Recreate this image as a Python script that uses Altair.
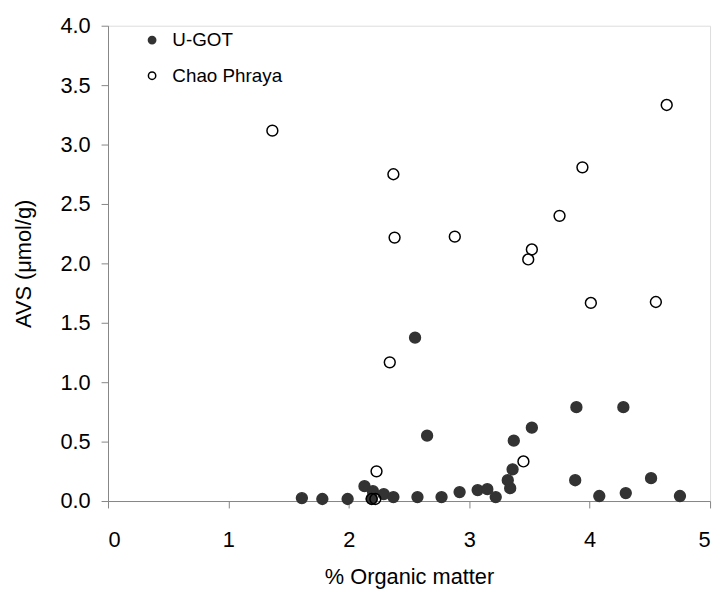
import altair as alt
import pandas as pd

series_names = ["U-GOT", "Chao Phraya"]

ugot_x = [1.61, 1.78, 1.99, 2.13, 2.20, 2.19, 2.29, 2.37, 2.57, 2.77, 2.92, 3.07, 3.15, 3.22,
          3.34, 3.32, 3.36, 3.37, 3.52, 3.89, 4.28, 3.88, 4.08, 4.30, 4.51, 4.75, 2.55, 2.65]
ugot_y = [0.025, 0.017, 0.017, 0.125, 0.083, 0.02, 0.058, 0.033, 0.033, 0.033, 0.075, 0.092, 0.10, 0.033,
          0.108, 0.175, 0.267, 0.508, 0.617, 0.79, 0.79, 0.175, 0.042, 0.067, 0.192, 0.042, 1.375, 0.55]

chao_x = [1.365, 2.37, 2.38, 2.88, 2.34, 2.23, 2.19, 2.22, 3.45, 4.64, 3.94, 3.75, 3.52, 3.49, 4.01, 4.55]
chao_y = [3.117, 2.75, 2.217, 2.225, 1.167, 0.25, 0.017, 0.017, 0.333, 3.333, 2.808, 2.40, 2.117, 2.033, 1.667, 1.675]

x_ticks = [0, 1, 2, 3, 4, 5]
y_ticks = [0.0, 0.5, 1.0, 1.5, 2.0, 2.5, 3.0, 3.5, 4.0]

rows = [{"om": x, "avs": y, "site": series_names[0]} for x, y in zip(ugot_x, ugot_y)]
rows += [{"om": x, "avs": y, "site": series_names[1]} for x, y in zip(chao_x, chao_y)]
df = pd.DataFrame(rows)

FONT = "Liberation Sans"
AXIS_GRAY = "#868686"

chart = alt.Chart(df).mark_point(
    shape="circle", size=120, strokeWidth=1.5, opacity=1, filled=False
).encode(
    x=alt.X("om:Q", title="% Organic matter",
            scale=alt.Scale(domain=[0, 5], nice=False, zero=False),
            axis=alt.Axis(values=x_ticks, format="d", grid=False, tickSize=7,
                          labelPadding=22, titlePadding=16, domainColor=AXIS_GRAY,
                          tickColor=AXIS_GRAY, labelColor="black", titleColor="black",
                          labelFont=FONT, titleFont=FONT, labelFontSize=22, titleFontSize=22,
                          titleFontWeight="normal")),
    y=alt.Y("avs:Q", title="AVS (μmol/g)",
            scale=alt.Scale(domain=[0, 4], nice=False),
            axis=alt.Axis(values=y_ticks, format=".1f", grid=False, tickSize=7,
                          labelPadding=11, titlePadding=25, domainColor=AXIS_GRAY,
                          tickColor=AXIS_GRAY, labelColor="black", titleColor="black",
                          labelFont=FONT, titleFont=FONT, labelFontSize=22, titleFontSize=22,
                          titleFontWeight="normal")),
    fill=alt.Fill("site:N", scale=alt.Scale(domain=series_names, range=["#333333", "transparent"]),
                  legend=alt.Legend(title=None, orient="none", legendX=35, legendY=5,
                                    symbolSize=55, symbolStrokeWidth=1.5, labelFont=FONT,
                                    labelFontSize=19, labelOffset=11, rowPadding=16,
                                    padding=0, symbolType="circle", labelColor="black")),
    stroke=alt.Stroke("site:N", scale=alt.Scale(domain=series_names, range=["#333333", "#000000"]),
                      legend=alt.Legend(title=None, orient="none", legendX=35, legendY=5,
                                        symbolSize=55, symbolStrokeWidth=1.5, labelFont=FONT,
                                        labelFontSize=19, labelOffset=11, rowPadding=16,
                                        padding=0, symbolType="circle", labelColor="black")),
    order=alt.Order("order_key:Q"),
).transform_calculate(
    order_key="datum.site == 'U-GOT' ? 0 : 1"
).properties(
    width=608, height=480,
    autosize=alt.AutoSizeParams(type="none"),
    padding={"left": 101, "top": 15, "right": 6, "bottom": 91},
).configure_view(stroke=None).configure(background="white")

chart.save("out.html", embed_options={"renderer": "svg", "actions": False})
